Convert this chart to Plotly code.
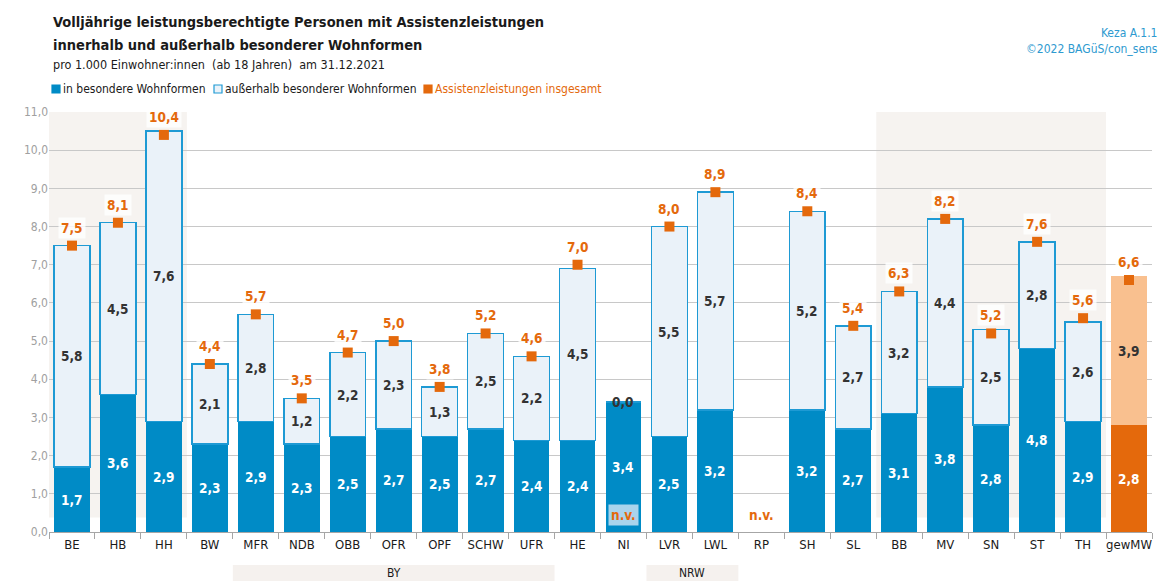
import plotly.graph_objects as go

categories = ["BE", "HB", "HH", "BW", "MFR", "NDB", "OBB", "OFR", "OPF", "SCHW", "UFR", "HE",
              "NI", "LVR", "LWL", "RP", "SH", "SL", "BB", "MV", "SN", "ST", "TH", "gewMW"]
in_wohnformen = [1.7, 3.6, 2.9, 2.3, 2.9, 2.3, 2.5, 2.7, 2.5, 2.7, 2.4, 2.4,
                 3.4, 2.5, 3.2, None, 3.2, 2.7, 3.1, 3.8, 2.8, 4.8, 2.9, 2.8]
ausserhalb = [5.8, 4.5, 7.6, 2.1, 2.8, 1.2, 2.2, 2.3, 1.3, 2.5, 2.2, 4.5,
              0.0, 5.5, 5.7, None, 5.2, 2.7, 3.2, 4.4, 2.5, 2.8, 2.6, 3.9]
insgesamt = [7.5, 8.1, 10.4, 4.4, 5.7, 3.5, 4.7, 5.0, 3.8, 5.2, 4.6, 7.0,
             None, 8.0, 8.9, None, 8.4, 5.4, 6.3, 8.2, 5.2, 7.6, 5.6, 6.6]
not_available = ["NI", "RP"]
y_ticks = [0, 1, 2, 3, 4, 5, 6, 7, 8, 9, 10, 11]

FONT = "DejaVu Sans Condensed, Liberation Sans Narrow, Arial Narrow, sans-serif"
BLUE = "#008BC6"
LIGHT = "#EAF2F9"
BORDER = "#1E9AD4"
ORANGE = "#E4690C"
LORANGE = "#F9C08F"
SHADE = "#F6F3F0"

W, H = 1158, 581
ML, MR, MT, MB = 49, 6, 112, 49
PW = W - ML - MR
PH = H - MT - MB


def px(x):
    return (x - ML) / PW


def py(y):
    return (H - MB - y) / PH


def fmt(v):
    return f"{v:.1f}".replace(".", ",")


n = len(categories)
inner_colors = [ORANGE if c == "gewMW" else BLUE for c in categories]
outer_colors = [LORANGE if c == "gewMW" else LIGHT for c in categories]
outer_lines = [LORANGE if c == "gewMW" else BORDER for c in categories]
outer_lw = [0 if c == "gewMW" else 1.5 for c in categories]

fig = go.Figure()
fig.add_trace(go.Bar(x=categories, y=in_wohnformen, name="in besondere Wohnformen",
                     marker=dict(color=inner_colors, line=dict(width=0)), showlegend=False,
                     hoverinfo="skip"))
fig.add_trace(go.Bar(x=categories, y=ausserhalb, name="außerhalb besonderer Wohnformen",
                     marker=dict(color=outer_colors, line=dict(color=outer_lines, width=outer_lw)),
                     showlegend=False, hoverinfo="skip"))
fig.add_trace(go.Scatter(x=categories, y=insgesamt, mode="markers", name="Assistenzleistungen insgesamt",
                         marker=dict(symbol="square", size=10, color=ORANGE), showlegend=False,
                         hoverinfo="skip"))

ann = []
for i, c in enumerate(categories):
    a, b, t = in_wohnformen[i], ausserhalb[i], insgesamt[i]
    if a is not None:
        ann.append(dict(x=c, y=a / 2, text=f"<b>{fmt(a)}</b>", showarrow=False,
                        font=dict(family=FONT, size=13.5, color="white")))
    if b is not None:
        ann.append(dict(x=c, y=a + b / 2, text=f"<b>{fmt(b)}</b>", showarrow=False,
                        font=dict(family=FONT, size=13.5, color="#333333")))
    if t is not None:
        ann.append(dict(x=c, y=t, yshift=18, text=f"<b>{fmt(t)}</b>", showarrow=False,
                        bgcolor="rgba(255,255,255,0.8)", borderpad=2,
                        font=dict(family=FONT, size=13.5, color=ORANGE)))
    if c in not_available:
        ann.append(dict(x=c, y=0, yshift=17, text="<b>n.v.</b>", showarrow=False,
                        bgcolor="#A9D4EC" if a is not None else None, borderpad=2,
                        font=dict(family=FONT, size=13.5, color=ORANGE)))

# titles
for line, ycen in [("Volljährige leistungsberechtigte Personen mit Assistenzleistungen", 22),
                   ("innerhalb und außerhalb besonderer Wohnformen", 45)]:
    ann.append(dict(xref="paper", yref="paper", x=px(51), y=py(ycen), xanchor="left",
                    yanchor="middle", showarrow=False, text=f"<b>{line}</b>",
                    font=dict(family=FONT, size=14.5, color="#1a1a1a")))
ann.append(dict(xref="paper", yref="paper", x=px(51), y=py(65), xanchor="left", yanchor="middle",
                showarrow=False, text="pro 1.000 Einwohner:innen  (ab 18 Jahren)  am 31.12.2021",
                font=dict(family=FONT, size=12.5, color="#1a1a1a")))
ann.append(dict(xref="paper", yref="paper", x=px(1160), y=py(24), xanchor="right", yanchor="top",
                align="right", showarrow=False, text="Keza A.1.1<br>©2022 BAGüS/con_sens",
                font=dict(family=FONT, size=12, color="#2E9AD0")))

# legend (manual)
legend_items = [("in besondere Wohnformen", BLUE, BLUE, "#1a1a1a", 52),
                ("außerhalb besonderer Wohnformen", LIGHT, BORDER, "#1a1a1a", 214),
                ("Assistenzleistungen insgesamt", ORANGE, ORANGE, ORANGE, 424)]
shapes = []
for label, fillc, linec, tc, x0 in legend_items:
    shapes.append(dict(type="rect", xref="paper", yref="paper", x0=px(x0), x1=px(x0 + 8),
                       y0=py(93), y1=py(85), fillcolor=fillc, line=dict(color=linec, width=1.2)))
    ann.append(dict(xref="paper", yref="paper", x=px(x0 + 9), y=py(89), xanchor="left",
                    yanchor="middle", showarrow=False, text=label,
                    font=dict(family=FONT, size=12, color=tc)))

# background shading for groups of categories
def idx(c):
    return categories.index(c)


for c0, c1 in [("BE", "HH"), ("BB", "TH")]:
    shapes.append(dict(type="rect", xref="x", yref="y", x0=idx(c0) - 0.5, x1=idx(c1) + 0.5,
                       y0=0.38, y1=11, fillcolor=SHADE, line=dict(width=0), layer="below"))

# group labels below axis
for c0, c1, lab in [("MFR", "UFR", "BY"), ("LVR", "LWL", "NRW")]:
    shapes.append(dict(type="rect", xref="x", yref="paper", x0=idx(c0) - 0.5, x1=idx(c1) + 0.5,
                       y0=py(581), y1=py(565), fillcolor="#F5F1EE", line=dict(width=0)))
    ann.append(dict(xref="x", yref="paper", x=(idx(c0) + idx(c1)) / 2, y=py(573),
                    yanchor="middle", showarrow=False, text=lab,
                    font=dict(family=FONT, size=12, color="#1a1a1a")))

fig.update_layout(
    width=W, height=H,
    margin=dict(l=ML, r=MR, t=MT, b=MB, autoexpand=False),
    barmode="stack", bargap=0.22,
    plot_bgcolor="rgba(0,0,0,0)", paper_bgcolor="white",
    separators=",.",
    font=dict(family=FONT, size=13, color="#1a1a1a"),
    annotations=ann, shapes=shapes,
    showlegend=False,
)
fig.update_xaxes(type="category", categoryorder="array", categoryarray=categories,
                 range=[-0.5, n - 0.5], showline=True, linecolor="#A6A6A6", linewidth=1,
                 ticks="outside", tickson="boundaries", ticklen=6, tickcolor="#A6A6A6",
                 tickangle=0,
                 tickfont=dict(family=FONT, size=13, color="#1a1a1a"), showgrid=False)
fig.update_yaxes(range=[0, 11], tickvals=y_ticks, tickformat=".1f", showgrid=True,
                 gridcolor="#C8C8C8", gridwidth=1, zeroline=False,
                 tickfont=dict(family=FONT, size=12, color="#A0A0A0"), ticks="", ticklen=4)

fig.write_html("out.html", config={"displayModeBar": False},
               post_script="document.body.style.margin='0';document.body.style.overflow='hidden';")
